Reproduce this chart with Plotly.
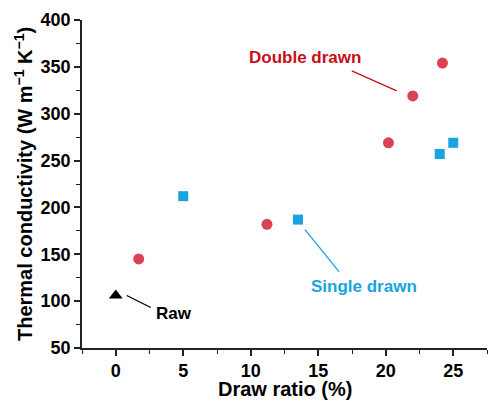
import plotly.graph_objects as go

# Data
double_x = [1.7, 11.2, 20.2, 22.0, 24.2]
double_y = [145, 182, 269, 319, 354]
single_x = [5.0, 13.5, 24.0, 25.0]
single_y = [212, 187, 257, 269]
raw_x = [0.0]
raw_y = [106]

x_ticks = [0, 5, 10, 15, 20, 25]
y_ticks = [50, 100, 150, 200, 250, 300, 350, 400]
x_ticktext = ["<b>%d</b>" % v for v in x_ticks]
y_ticktext = ["<b>%d</b>" % v for v in y_ticks]

x_title = "Draw ratio (%)"
y_title = "Thermal conductivity (W m<sup>−1</sup> K<sup>−1</sup>)"

RED = "#dc4256"
RED_TXT = "#c80f19"
BLUE = "#18a4e0"
FONT = "Liberation Sans, Arial, sans-serif"

fig = go.Figure()
fig.add_trace(go.Scatter(x=double_x, y=double_y, mode="markers", name="Double drawn",
                         marker=dict(symbol="circle", size=11, color=RED)))
fig.add_trace(go.Scatter(x=single_x, y=single_y, mode="markers", name="Single drawn",
                         marker=dict(symbol="square", size=10, color=BLUE)))
fig.add_trace(go.Scatter(x=raw_x, y=raw_y, mode="markers", name="Raw",
                         marker=dict(symbol="triangle-up", size=12, color="black")))

# Leader lines (pixel offsets anchored to data points) and labels
def label(x, y, text, color, line_px, xs, ys):
    (px0, py0), (px1, py1) = line_px
    fig.add_shape(type="line", xref="x", yref="y",
                  xsizemode="pixel", ysizemode="pixel", xanchor=x, yanchor=y,
                  x0=px0, y0=py0, x1=px1, y1=py1,
                  line=dict(color=color, width=1.3))
    fig.add_annotation(x=x, y=y, xref="x", yref="y", text="<b>%s</b>" % text,
                       showarrow=False, xshift=xs, yshift=ys,
                       font=dict(family=FONT, size=17, color=color))

label(double_x[3], double_y[3], "Double drawn", RED_TXT, ((-61, 25), (-16, 5)), -108, 38)
label(single_x[1], single_y[1], "Single drawn", BLUE, ((7, -10), (41, -52)), 66, -67)
label(raw_x[0], raw_y[0], "Raw", "black", ((11, 0), (35, -12)), 58, -18)

# Axis titles
fig.add_annotation(x=0.5, y=0, xref="paper", yref="paper", text="<b>%s</b>" % x_title,
                   showarrow=False, xanchor="center", yanchor="top", yshift=-28,
                   font=dict(family=FONT, size=20, color="black"))
fig.add_annotation(x=0, y=0.5, xref="paper", yref="paper", text="<b>%s</b>" % y_title,
                   showarrow=False, xanchor="center", yanchor="middle", xshift=-59,
                   textangle=-90, font=dict(family=FONT, size=20, color="black"))

axis_common = dict(showline=True, linecolor="#222222", linewidth=1.5, showgrid=False,
                   zeroline=False, ticklen=6, tickwidth=1.5, tickcolor="#222222")
tickfont = dict(size=18, family=FONT, color="black", weight="bold")

fig.update_layout(
    width=488, height=401,
    margin=dict(l=82, r=1, t=20, b=53),
    plot_bgcolor="white", paper_bgcolor="white",
    showlegend=False,
    font=dict(family=FONT, color="black"),
    xaxis=dict(range=[-2.5, 27.5], tickvals=x_ticks, ticktext=x_ticktext, ticks="outside",
               tickfont=tickfont, automargin=False,
               minor=dict(ticks="outside", dtick=2.5, tick0=0, ticklen=4, tickwidth=1.2, tickcolor="#222222"),
               **axis_common),
    yaxis=dict(range=[50, 400], tickvals=y_ticks, ticktext=y_ticktext, ticks="outside",
               tickfont=tickfont, automargin=False,
               minor=dict(ticks="outside", dtick=25, tick0=0, ticklen=4, tickwidth=1.2, tickcolor="#222222"),
               **axis_common),
    xaxis2=dict(range=[-2.5, 27.5], tickvals=x_ticks, ticks="inside", side="top",
                overlaying="x", anchor="y", showticklabels=False,
                minor=dict(ticks="inside", dtick=2.5, tick0=0, ticklen=4, tickwidth=1.2, tickcolor="#222222"),
                **axis_common),
    yaxis2=dict(range=[50, 400], tickvals=y_ticks, ticks="inside", side="right",
                overlaying="y", anchor="x", showticklabels=False,
                minor=dict(ticks="inside", dtick=25, tick0=0, ticklen=4, tickwidth=1.2, tickcolor="#222222"),
                **axis_common),
)

fig.write_html("out.html")
